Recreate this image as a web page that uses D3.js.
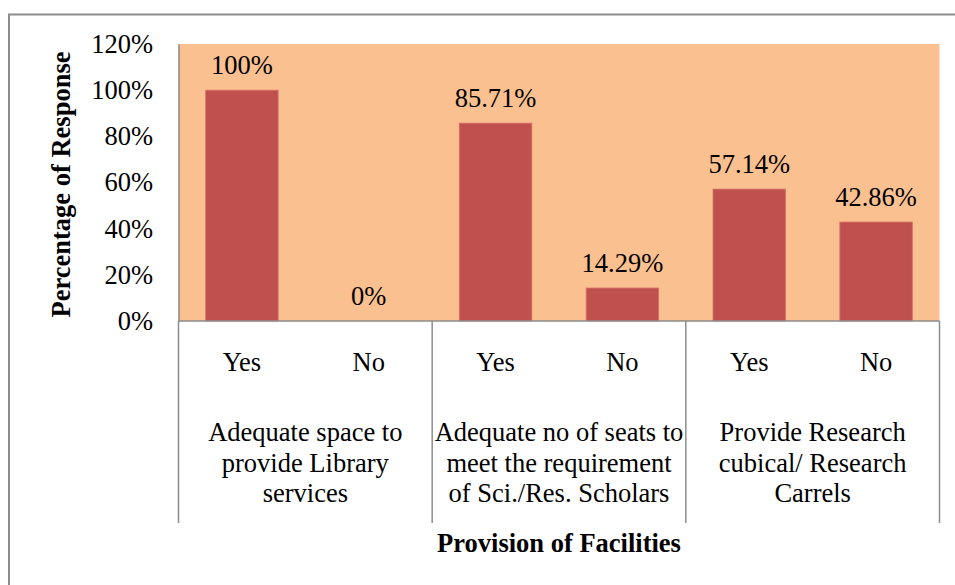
<!DOCTYPE html>
<html><head><meta charset="utf-8">
<script src="https://cdn.jsdelivr.net/npm/d3@7"></script>
<style>body{margin:0;background:#fff}svg{display:block}text{font-family:"Liberation Serif","Times New Roman",serif;fill:#000}</style>
</head><body>
<script>
const groups = ["Adequate space to|provide Library|services", "Adequate no of seats to|meet the requirement|of Sci./Res. Scholars", "Provide Research|cubical/ Research|Carrels"];
const answers = ["Yes", "No"];
const values = [100, 0, 85.71, 14.29, 57.14, 42.86];
const valueLabels = ["100%", "0%", "85.71%", "14.29%", "57.14%", "42.86%"];
const yTicks = [0, 20, 40, 60, 80, 100, 120];
const yTitle = "Percentage of Response";
const xTitle = "Provision of Facilities";

const W = 955, H = 585, FS = 26.5;
const plot = {l: 178.5, t: 44, r: 939.5, b: 321};
const svg = d3.select("body").append("svg").attr("width", W).attr("height", H);

// outer frame
svg.append("rect").attr("x", 9).attr("y", 14.5).attr("width", 960).attr("height", 600)
  .attr("fill", "none").attr("stroke", "#8c8c8c").attr("stroke-width", 2);

const cats = [];
groups.forEach((g, gi) => answers.forEach(a => cats.push(gi + "|" + a)));

const x = d3.scaleBand().domain(cats).range([plot.l, plot.r]).paddingInner(0.4286).paddingOuter(0.2143);
const xg = d3.scaleBand().domain(d3.range(groups.length)).range([plot.l, plot.r]);
const y = d3.scaleLinear().domain([0, 120]).range([plot.b, plot.t]);

svg.append("rect").attr("x", plot.l).attr("y", plot.t).attr("width", plot.r - plot.l).attr("height", plot.b - plot.t)
  .attr("fill", "#FAC090");

svg.selectAll("rect.bar").data(values).join("rect").attr("class", "bar")
  .attr("x", (d, i) => x(cats[i])).attr("width", x.bandwidth())
  .attr("y", d => y(d)).attr("height", d => y(0) - y(d))
  .attr("fill", "#C0504D").attr("stroke", "#d8706c").attr("stroke-width", 0.8);

svg.selectAll("text.vl").data(values).join("text").attr("class", "vl")
  .attr("x", (d, i) => x(cats[i]) + x.bandwidth() / 2)
  .attr("y", d => y(d) - 25).attr("dy", "0.35em")
  .attr("text-anchor", "middle").attr("font-size", FS)
  .text((d, i) => valueLabels[i]);

// y axis
const yAxis = d3.axisLeft(y).tickValues(yTicks).tickFormat(d => d + "%").tickSize(0).tickPadding(25.5);
const ya = svg.append("g").attr("transform", `translate(${plot.l},0)`).call(yAxis);
ya.select(".domain").attr("stroke", "#8c8c8c").attr("stroke-width", 1.5);
ya.selectAll("text").attr("font-size", FS);

// x axis
const xa = svg.append("g").attr("transform", `translate(0,${plot.b})`)
  .call(d3.axisBottom(x).tickSize(0).tickPadding(0).tickFormat(() => ""));
xa.select(".domain").attr("stroke", "#8c8c8c").attr("stroke-width", 1.5).attr("d", `M${plot.l},0H${plot.r}`);

// group separators
const seps = d3.range(groups.length + 1).map(i => i < groups.length ? xg(i) : plot.r);
svg.selectAll("line.sep").data(seps).join("line").attr("class", "sep")
  .attr("x1", d => d).attr("x2", d => d).attr("y1", plot.b).attr("y2", 523)
  .attr("stroke", "#8c8c8c").attr("stroke-width", 1.5);

svg.selectAll("text.ans").data(cats).join("text").attr("class", "ans")
  .attr("x", d => x(d) + x.bandwidth() / 2).attr("y", 362).attr("dy", "0.35em")
  .attr("text-anchor", "middle").attr("font-size", FS)
  .text(d => d.split("|")[1]);

groups.forEach((g, gi) => {
  const t = svg.append("text").attr("text-anchor", "middle").attr("font-size", FS)
    .attr("x", xg(gi) + xg.bandwidth() / 2);
  g.split("|").forEach((line, li) => {
    t.append("tspan").attr("x", xg(gi) + xg.bandwidth() / 2).attr("y", 432 + li * 30.5).attr("dy", "0.35em").text(line);
  });
});

svg.append("text").attr("x", (plot.l + plot.r) / 2).attr("y", 543).attr("dy", "0.35em")
  .attr("text-anchor", "middle").attr("font-size", FS).attr("font-weight", "bold").text(xTitle);

svg.append("text").attr("transform", `translate(61,${(plot.t + plot.b) / 2 + 2}) rotate(-90)`).attr("dy", "0.35em")
  .attr("text-anchor", "middle").attr("font-size", FS).attr("font-weight", "bold").text(yTitle);
</script>
</body></html>
